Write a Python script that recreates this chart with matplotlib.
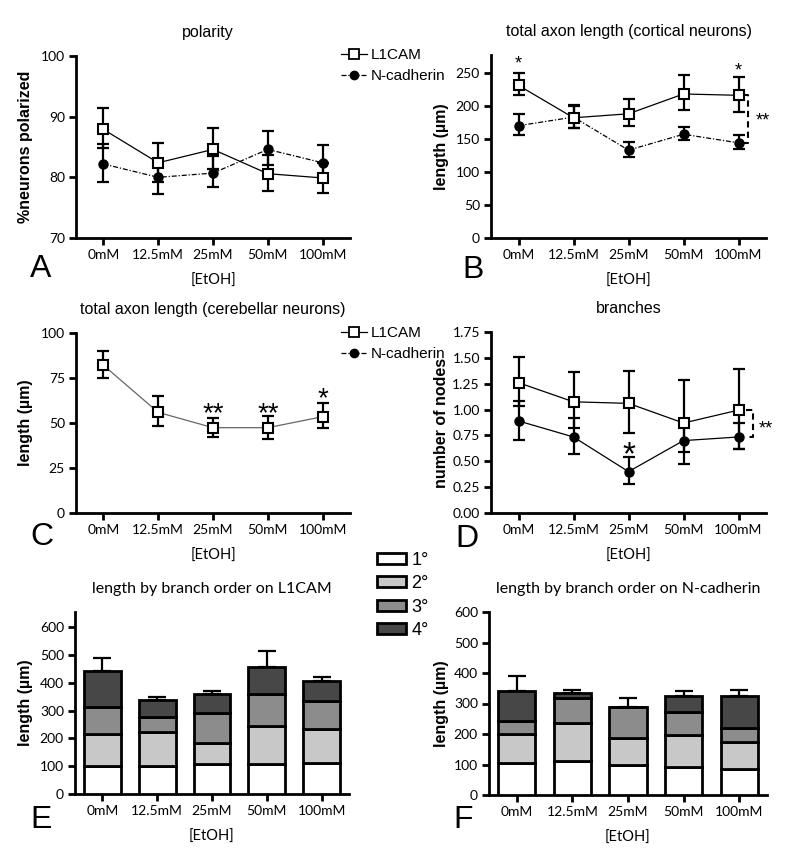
import numpy as np
import matplotlib.pyplot as plt
from matplotlib.lines import Line2D
from matplotlib.patches import Patch

plt.rcParams['font.family'] = ['Liberation Sans', 'DejaVu Sans']

conc = ['0mM', '12.5mM', '25mM', '50mM', '100mM']

# A: polarity (%), value / lower / upper
pol_l1 = [87.9, 82.4, 84.6, 80.6, 79.9]
pol_l1_lo = [84.8, 79.2, 81.3, 77.8, 77.4]
pol_l1_hi = [91.5, 85.7, 88.2, 83.7, 82.3]
pol_nc = [82.2, 80.0, 80.7, 84.6, 82.4]
pol_nc_lo = [79.3, 77.2, 78.4, 82.1, 79.8]
pol_nc_hi = [85.5, 82.8, 83.5, 87.6, 85.3]

# B: cortical axon length
cor_l1 = [231, 182, 188, 218, 216]
cor_l1_lo = [216, 167, 169, 193, 191]
cor_l1_hi = [250, 202, 210, 247, 244]
cor_nc = [170, 183, 133, 157, 144]
cor_nc_lo = [156, 167, 123, 148, 135]
cor_nc_hi = [187, 200, 146, 168, 156]

# C: cerebellar axon length
cer_l1 = [82.1, 55.9, 47.4, 47.4, 53.5]
cer_l1_lo = [75.1, 48.3, 42.4, 41.3, 47.0]
cer_l1_hi = [89.9, 64.9, 53.0, 54.1, 61.3]

# D: branches
br_l1 = [1.26, 1.075, 1.06, 0.87, 0.995]
br_l1_lo = [1.03, 0.82, 0.77, 0.59, 0.62]
br_l1_hi = [1.51, 1.365, 1.37, 1.285, 1.39]
br_nc = [0.89, 0.735, 0.40, 0.70, 0.735]
br_nc_lo = [0.71, 0.57, 0.28, 0.475, 0.62]
br_nc_hi = [1.08, 0.92, 0.54, 0.86, 0.87]

# E/F: length by branch order (segment values), top error
orders = ['1°', '2°', '3°', '4°']
l1_o1 = [101, 99, 109, 107, 111]
l1_o2 = [114, 125, 74, 139, 123]
l1_o3 = [99, 54, 109, 113, 101]
l1_o4 = [127, 60, 66, 98, 72]
l1_err = [46, 12, 12, 56, 14]
nc_o1 = [104, 110, 99, 92, 85]
nc_o2 = [95, 126, 87, 104, 90]
nc_o3 = [44, 82, 101, 75, 44]
nc_o4 = [97, 18, 0, 54, 104]
nc_err = [51, 9, 31, 15, 22]

order_colors = ['white', '#c8c8c8', '#8c8c8c', '#474747']

W, H = 800, 868
fig = plt.figure(figsize=(W / 100, H / 100), dpi=100)


def add_ax(x0, x1, y0, y1):
    return fig.add_axes([x0 / W, 1 - y1 / H, (x1 - x0) / W, (y1 - y0) / H])


def style(ax, title, ylabel, ylim, yticks, tick_fmt=None, title_font='Liberation Sans'):
    x = np.arange(len(conc))
    ax.set_xlim(-0.5, 4.5)
    ax.set_ylim(*ylim)
    ax.set_xticks(x)
    ax.set_xticklabels(conc, fontfamily='Lato', fontsize=10)
    ax.set_yticks(yticks)
    if tick_fmt:
        ax.set_yticklabels([tick_fmt.format(v) for v in yticks])
    for lab in ax.get_yticklabels():
        lab.set_fontfamily('Lato')
        lab.set_fontsize(10)
    for s in ['top', 'right']:
        ax.spines[s].set_visible(False)
    for s in ['left', 'bottom']:
        ax.spines[s].set_linewidth(2)
    ax.tick_params(width=2, length=5, direction='out', pad=3)
    ax.set_title(title, fontsize=11.5, fontfamily=title_font, pad=14)
    ax.set_ylabel(ylabel, fontsize=11.5, fontweight='bold', labelpad=4)
    ax.set_xlabel('[EtOH]', fontfamily='Lato', fontsize=10.5, labelpad=9)
    ax.patch.set_alpha(0)


def err_line(ax, vals, lo, hi, marker, mfc, ls, color='black', ms=7):
    x = np.arange(len(vals))
    v = np.array(vals)
    yerr = [v - np.array(lo), np.array(hi) - v]
    ax.errorbar(x, v, yerr=yerr, fmt='none', ecolor='black', elinewidth=1.6,
                capsize=4.5, capthick=1.6, zorder=2)
    ax.plot(x, v, ls=ls, color=color, lw=0.9, zorder=3)
    ax.plot(x, v, ls='none', marker=marker, mfc=mfc, mec='black', mew=1.5,
            ms=ms, zorder=4)


def star(ax, x, y, s, fs):
    ax.annotate(s, xy=(x, y), xytext=(0, -0.58 * fs), textcoords='offset points',
                ha='center', va='baseline', fontsize=fs)


def bracket(ax, x0, x1, ytop, ybot):
    ax.plot([x0, x1, x1, x0], [ytop, ytop, ybot, ybot], color='black', lw=1.5,
            ls=(0, (3, 2)), zorder=5, clip_on=False)


dashdot = (0, (4, 1.5, 1, 1.5))

# A
axA = add_ax(76, 350, 56, 238)
err_line(axA, pol_nc, pol_nc_lo, pol_nc_hi, 'o', 'black', dashdot, ms=6)
err_line(axA, pol_l1, pol_l1_lo, pol_l1_hi, 's', 'white', '-')
style(axA, 'polarity', '%neurons polarized', (70, 100), [70, 80, 90, 100])
axA.title.set_position((0.48, 1))

# B
axB = add_ax(491, 766, 55, 238)
err_line(axB, cor_nc, cor_nc_lo, cor_nc_hi, 'o', 'black', dashdot, ms=6)
err_line(axB, cor_l1, cor_l1_lo, cor_l1_hi, 's', 'white', '-')
style(axB, 'total axon length (cortical neurons)', 'length (µm)', (0, 277),
      [0, 50, 100, 150, 200, 250])
star(axB, 0, 272, '*', 13)
star(axB, 4, 262, '*', 13)
bracket(axB, 4.09, 4.18, cor_l1[4], cor_nc[4])
star(axB, 4.45, 186, '**', 13)

# C
axC = add_ax(76, 350, 333, 513)
err_line(axC, cer_l1, cer_l1_lo, cer_l1_hi, 's', 'white', '-', color='#666666')
style(axC, 'total axon length (cerebellar neurons)', 'length (µm)', (0, 100),
      [0, 25, 50, 75, 100])
star(axC, 2, 60, '**', 20)
star(axC, 3, 60, '**', 20)
star(axC, 4, 68.5, '*', 20)

# D
axD = add_ax(491, 766, 332, 513)
err_line(axD, br_nc, br_nc_lo, br_nc_hi, 'o', 'black', '-', ms=6)
err_line(axD, br_l1, br_l1_lo, br_l1_hi, 's', 'white', '-')
style(axD, 'branches', 'number of nodes', (0, 1.75),
      [0, 0.25, 0.5, 0.75, 1.0, 1.25, 1.5, 1.75], tick_fmt='{:.2f}')
star(axD, 2, 0.66, '*', 24)
bracket(axD, 4.13, 4.27, br_l1[4], br_nc[4])
star(axD, 4.5, 0.87, '**', 13)


def stacked(ax, segs, err):
    x = np.arange(len(conc))
    bottom = np.zeros(len(conc))
    for seg, col in zip(segs, order_colors):
        ax.bar(x, seg, 0.67, bottom=bottom, color=col, edgecolor='black',
               linewidth=2, zorder=3)
        bottom = bottom + np.array(seg)
    ax.errorbar(x, bottom, yerr=[np.zeros(len(conc)), err], fmt='none',
                ecolor='black', elinewidth=1.6, capsize=6.5, capthick=1.6, zorder=2)


# E
axE = add_ax(75, 349, 612, 794)
stacked(axE, [l1_o1, l1_o2, l1_o3, l1_o4], l1_err)
style(axE, 'length by branch order on L1CAM', 'length (µm)', (0, 654),
      [0, 100, 200, 300, 400, 500, 600], title_font='Lato')

# F
axF = add_ax(489, 767, 612, 795)
stacked(axF, [nc_o1, nc_o2, nc_o3, nc_o4], nc_err)
style(axF, 'length by branch order on N-cadherin', 'length (µm)', (0, 600),
      [0, 100, 200, 300, 400, 500, 600], title_font='Lato')

# ylabel positions (figure px)
for ax, xpx in [(axA, 33), (axB, 449), (axC, 33), (axD, 449), (axE, 33), (axF, 449)]:
    bb = ax.get_position()
    ax.yaxis.set_label_coords((xpx / W - bb.x0) / bb.width, 0.5)

# line legends
line_handles = [
    Line2D([], [], color='black', lw=0.9, marker='s', mfc='white', mec='black', mew=1.3, ms=7),
    Line2D([], [], color='black', lw=0.9, ls=dashdot, marker='o', mfc='black', mec='black', ms=6),
]
for ytop in [48, 326]:
    fig.legend(line_handles, ['L1CAM', 'N-cadherin'], loc='upper left',
               bbox_to_anchor=(341 / W, 1 - ytop / H), frameon=False, fontsize=11,
               handlelength=1.7, handletextpad=0.25, labelspacing=0.45,
               borderpad=0, borderaxespad=0)

# bar legend
patch_handles = [Patch(facecolor=c, edgecolor='black', linewidth=2) for c in order_colors]
fig.legend(patch_handles, orders, loc='upper left', bbox_to_anchor=(377 / W, 1 - 552 / H),
           frameon=False, fontsize=13, handlelength=1.6, handleheight=0.55,
           handletextpad=0.3, labelspacing=0.35, borderpad=0, borderaxespad=0)

# panel letters
for letter, xpx, ypx in [('A', 30, 269), ('B', 462, 270), ('C', 30, 537),
                         ('D', 455, 539), ('E', 30, 820), ('F', 453, 820)]:
    fig.text(xpx / W, 1 - ypx / H, letter, fontsize=23, ha='left', va='center')

fig.savefig('out.png', dpi=100)
